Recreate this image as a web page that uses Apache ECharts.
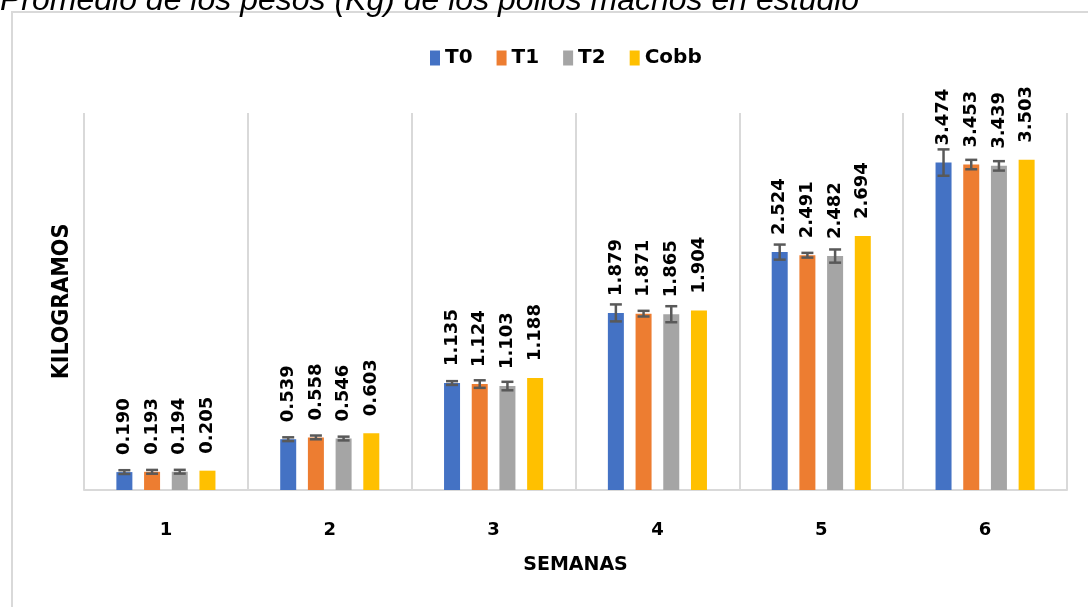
<!DOCTYPE html>
<html>
<head>
<meta charset="utf-8">
<script src="https://cdn.jsdelivr.net/npm/echarts@6/dist/echarts.min.js"></script>
<style>
  html, body { margin: 0; padding: 0; background: #fff; }
  #chart { width: 1088px; height: 607px; }
</style>
</head>
<body>
<div id="chart"></div>
<script>
// semanas
var weeks = ['1', '2', '3', '4', '5', '6'];
// pesos promedio (kg)
var t0 = [0.190, 0.539, 1.135, 1.879, 2.524, 3.474];
var t1 = [0.193, 0.558, 1.124, 1.871, 2.491, 3.453];
var t2 = [0.194, 0.546, 1.103, 1.865, 2.482, 3.439];
var cobb = [0.205, 0.603, 1.188, 1.904, 2.694, 3.503];
// barras de error (estimadas)
var errT0 = [0.02, 0.02, 0.02, 0.09, 0.08, 0.14];
var errT1 = [0.02, 0.02, 0.04, 0.03, 0.025, 0.05];
var errT2 = [0.02, 0.02, 0.045, 0.085, 0.07, 0.05];

var BAR_W = 16;
var GAP = 11.7;
var PITCH = BAR_W + GAP;

var chart = echarts.init(document.getElementById('chart'));

function barSeries(name, data, color) {
    return {
        name: name,
        type: 'bar',
        data: data,
        barWidth: BAR_W,
        barGap: (GAP / BAR_W * 100).toFixed(1) + '%',
        itemStyle: { color: color },
        label: {
            show: true,
            position: 'top',
            distance: 17,
            rotate: 90,
            align: 'left',
            verticalAlign: 'middle',
            color: '#000',
            fontFamily: 'DejaVu Sans',
            fontWeight: 'bold',
            fontSize: 18,
            formatter: function (p) { return p.value.toFixed(3); }
        }
    };
}

//barras de error
function errSeries(pos, means, errs) {
    return {
        type: 'custom',
        z: 5,
        silent: true,
        data: means.map(function (m, i) { return [i, m, errs[i]]; }),
        encode: { x: 0, y: 1 },
        renderItem: function (params, api) {
            var c = api.coord([api.value(0), api.value(1)]);
            var x = c[0] + (pos - 1.5) * PITCH;
            var hi = api.coord([api.value(0), api.value(1) + api.value(2)])[1];
            var lo = api.coord([api.value(0), api.value(1) - api.value(2)])[1];
            var st = { stroke: '#595959', lineWidth: 2.5 };
            return {
                type: 'group',
                children: [
                    { type: 'line', shape: { x1: x, y1: hi, x2: x, y2: lo }, style: st },
                    { type: 'line', shape: { x1: x - 6, y1: hi, x2: x + 6, y2: hi }, style: st },
                    { type: 'line', shape: { x1: x - 6, y1: lo, x2: x + 6, y2: lo }, style: st }
                ]
            };
        }
    };
}

var option = {
    animation: false,
    graphic: [
        {
            type: 'rect',
            shape: { x: 12, y: 12, width: 1200, height: 800 },
            style: { fill: 'none', stroke: '#d9d9d9', lineWidth: 2 }
        },
        {
            type: 'text',
            x: 0,
            y: -15,
            style: {
                text: 'Promedio de los pesos (Kg) de los pollos machos en estudio',
                font: 'italic 32px "Liberation Sans"',
                fill: '#000'
            }
        }
    ],
    legend: {
        data: ['T0', 'T1', 'T2', 'Cobb'],
        top: 43,
        left: 425,
        itemWidth: 10,
        itemHeight: 15,
        itemGap: 24,
        icon: 'rect',
        textStyle: {
            fontFamily: 'DejaVu Sans',
            fontWeight: 'bold',
            fontSize: 20,
            color: '#000'
        }
    },
    grid: { left: 84, right: 21, top: 113, bottom: 117 },
    xAxis: {
        type: 'category',
        data: weeks,
        name: 'SEMANAS',
        nameLocation: 'middle',
        nameGap: 66,
        nameTextStyle: { fontFamily: 'DejaVu Sans', fontWeight: 'bold', fontSize: 19, color: '#000' },
        axisLine: { lineStyle: { color: '#d9d9d9', width: 2 } },
        axisTick: { show: false },
        axisLabel: { margin: 31, fontFamily: 'DejaVu Sans', fontWeight: 'bold', fontSize: 18, color: '#000' },
        splitLine: { show: true, lineStyle: { color: '#d9d9d9', width: 2 } }
    },
    yAxis: {
        type: 'value',
        min: 0,
        max: 4,
        interval: 0.5,
        name: 'KILOGRAMOS',
        nameLocation: 'middle',
        nameGap: 10,
        nameTextStyle: { fontFamily: 'DejaVu Sans Condensed', fontWeight: 'bold', fontSize: 23, color: '#000' },
        axisLine: { show: false },
        axisTick: { show: false },
        axisLabel: { show: false },
        splitLine: { show: false }
    },
    series: [
        barSeries('T0', t0, '#4472C4'),
        barSeries('T1', t1, '#ED7D31'),
        barSeries('T2', t2, '#A5A5A5'),
        barSeries('Cobb', cobb, '#FFC000'),
        errSeries(0, t0, errT0),
        errSeries(1, t1, errT1),
        errSeries(2, t2, errT2)
    ]
};

chart.setOption(option);
</script>
</body>
</html>
